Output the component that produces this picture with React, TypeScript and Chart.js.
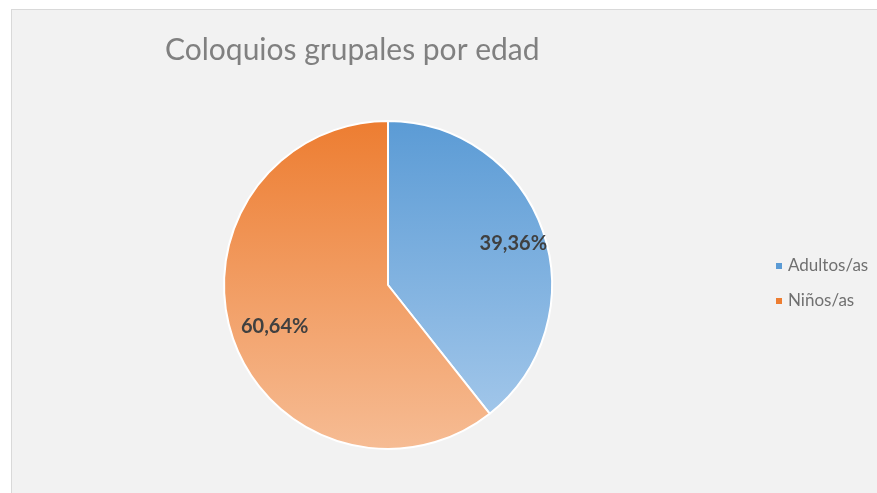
import React, { useEffect, useRef } from "react";
import { Chart, registerables } from "chart.js";

Chart.register(...registerables);

const categories = ["Adultos/as", "Niños/as"];
const values = [39.36, 60.64];
const valueLabels = ["39,36%", "60,64%"];
const titleText = "Coloquios grupales por edad";
const topColors = ["#5b9bd5", "#ed7d31"];
const bottomColors = ["#a9cbec", "#f6bc94"];

const W = 865;
const H = 483;

export default function App() {
  const ref = useRef<HTMLCanvasElement | null>(null);

  useEffect(() => {
    const canvas = ref.current;
    if (!canvas) return;

    const overlay = {
      id: "overlay",
      afterDatasetsDraw(chart: any) {
        const ctx = chart.ctx;
        ctx.save();
        // title
        ctx.fillStyle = "#808080";
        ctx.font = "30px Lato, 'Open Sans', sans-serif";
        ctx.textBaseline = "alphabetic";
        ctx.textAlign = "left";
        ctx.fillText(titleText, 153, 50);
        // value labels
        const meta = chart.getDatasetMeta(0);
        ctx.font = "bold 20px Lato, 'Open Sans', sans-serif";
        ctx.fillStyle = "#404040";
        ctx.textAlign = "center";
        ctx.textBaseline = "middle";
        meta.data.forEach((arc: any, i: number) => {
          const p = arc.getProps(["x", "y", "startAngle", "endAngle", "outerRadius"], true);
          const mid = (p.startAngle + p.endAngle) / 2;
          const r = p.outerRadius * 0.77;
          ctx.fillText(valueLabels[i], p.x + Math.cos(mid) * r + 6, p.y + Math.sin(mid) * r);
        });
        // legend
        ctx.font = "17px Lato, 'Open Sans', sans-serif";
        ctx.textAlign = "left";
        ctx.textBaseline = "middle";
        categories.forEach((c, i) => {
          const y = 256 + i * 35;
          ctx.fillStyle = topColors[i];
          ctx.fillRect(764, y - 3, 6, 6);
          ctx.fillStyle = "#707070";
          ctx.fillText(c, 776, y);
        });
        ctx.restore();
      },
    };

    const chart = new Chart(canvas, {
      type: "pie",
      data: {
        labels: categories,
        datasets: [
          {
            data: values,
            backgroundColor: (context: any) => {
              const ch = context.chart;
              const area = ch.chartArea;
              const i = context.dataIndex;
              if (!area) return topColors[i];
              const g = ch.ctx.createLinearGradient(0, area.top, 0, area.bottom);
              g.addColorStop(0, topColors[i]);
              g.addColorStop(1, bottomColors[i]);
              return g;
            },
            borderColor: "#ffffff",
            borderWidth: 2,
          },
        ],
      },
      options: {
        responsive: false,
        animation: false,
        layout: { padding: { left: 211, right: 324, top: 110, bottom: 43 } },
        plugins: {
          legend: { display: false },
          title: { display: false },
          tooltip: { enabled: false },
        },
      },
      plugins: [overlay],
    });

    return () => chart.destroy();
  }, []);

  return (
    <div
      style={{
        position: "absolute",
        left: 0,
        top: 0,
        width: 877,
        height: 493,
        background: "#ffffff",
        overflow: "hidden",
      }}
    >
      <div
        style={{
          position: "absolute",
          left: 11,
          top: 9,
          width: 866,
          height: 484,
          boxSizing: "border-box",
          borderLeft: "1px solid #d9d9d9",
          borderTop: "1px solid #d9d9d9",
          background: "#f2f2f2",
        }}
      >
        <canvas ref={ref} width={W} height={H} style={{ display: "block", width: W, height: H }} />
      </div>
    </div>
  );
}
